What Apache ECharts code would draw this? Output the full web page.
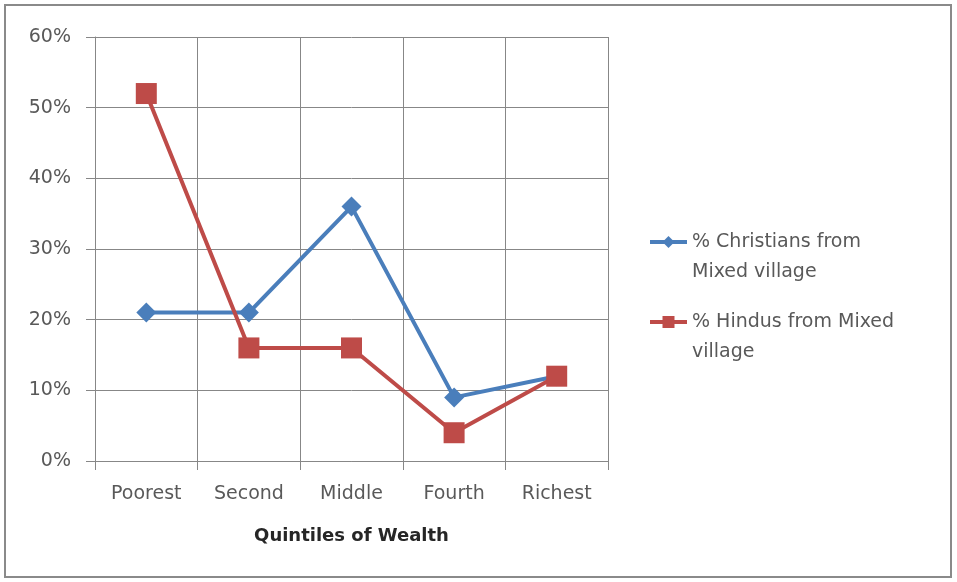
<!DOCTYPE html>
<html>
<head>
<meta charset="utf-8">
<script src="https://cdn.jsdelivr.net/npm/echarts@6/dist/echarts.min.js"></script>
<style>
  html, body { margin: 0; padding: 0; background: #fff; }
  #chart { width: 957px; height: 582px; }
</style>
</head>
<body>
<div id="chart"></div>
<script>
const categories = ['Poorest', 'Second', 'Middle', 'Fourth', 'Richest']
const christians = [21, 21, 36, 9, 12]
const hindus = [52, 16, 16, 4, 12]
const yTicks = [0, 10, 20, 30, 40, 50, 60]

const CHRISTIAN_NAME = '% Christians from Mixed village'
const HINDU_NAME = '% Hindus from Mixed village'
// leading blank line keeps the legend icon level with the first text line
const legendLines = {
  [CHRISTIAN_NAME]: '\n% Christians from\nMixed village',
  [HINDU_NAME]: '\n% Hindus from Mixed\nvillage',
}

const FONT = 'DejaVu Sans'
const TEXT_COLOR = '#595959'
const GRID_COLOR = '#878787'
const BLUE = '#4a7ebb'
const RED = '#be4b48'

const chart = echarts.init(document.getElementById('chart'))

function legendFor(name, top) {
  return {
    data: [name],
    orient: 'vertical',
    left: 648,
    top: top,
    padding: 0,
    itemWidth: 37,
    itemHeight: 15,
    itemGap: 0,
    lineStyle: { width: 4 },
    formatter: (n) => legendLines[n],
    textStyle: { fontFamily: FONT, fontSize: 19, color: TEXT_COLOR, lineHeight: 30 },
  }
}

chart.setOption({
  backgroundColor: '#fff',
  animation: false,
  graphic: [{
    type: 'rect',
    shape: { x: 5, y: 5, width: 946, height: 572 },
    style: { fill: 'none', stroke: '#8a8a8a', lineWidth: 2 },
    silent: true,
  }],
  grid: { left: 95, top: 37, right: 349, bottom: 121 },
  legend: [legendFor(CHRISTIAN_NAME, 197), legendFor(HINDU_NAME, 277)],
  xAxis: {
    type: 'category',
    data: categories,
    boundaryGap: true,
    name: 'Quintiles of Wealth',
    nameLocation: 'middle',
    nameGap: 66,
    nameTextStyle: { fontFamily: FONT, fontSize: 18, fontWeight: 'bold', color: '#262626' },
    axisLine: { lineStyle: { color: GRID_COLOR, width: 1 } },
    axisTick: { show: true, length: 9, lineStyle: { color: GRID_COLOR } },
    axisLabel: { margin: 24, fontFamily: FONT, fontSize: 19, color: TEXT_COLOR },
    splitLine: { show: true, lineStyle: { color: GRID_COLOR, width: 1 } },
  },
  yAxis: {
    type: 'value',
    min: yTicks[0],
    max: yTicks[yTicks.length - 1],
    interval: 10,
    axisLine: { show: true, lineStyle: { color: GRID_COLOR, width: 1 } },
    axisTick: { show: true, length: 9, lineStyle: { color: GRID_COLOR } },
    axisLabel: { margin: 24, fontFamily: FONT, fontSize: 19, color: TEXT_COLOR, formatter: '{value}%' },
    splitLine: { show: true, lineStyle: { color: GRID_COLOR, width: 1 } },
  },
  series: [
    {
      name: CHRISTIAN_NAME,
      type: 'line',
      data: christians,
      symbol: 'diamond',
      symbolSize: 20,
      showAllSymbol: true,
      lineStyle: { color: BLUE, width: 4 },
      itemStyle: { color: BLUE },
      z: 3,
    },
    {
      name: HINDU_NAME,
      type: 'line',
      data: hindus,
      symbol: 'rect',
      symbolSize: 21,
      lineStyle: { color: RED, width: 4 },
      itemStyle: { color: RED },
      z: 4,
    },
  ],
})
</script>
</body>
</html>
